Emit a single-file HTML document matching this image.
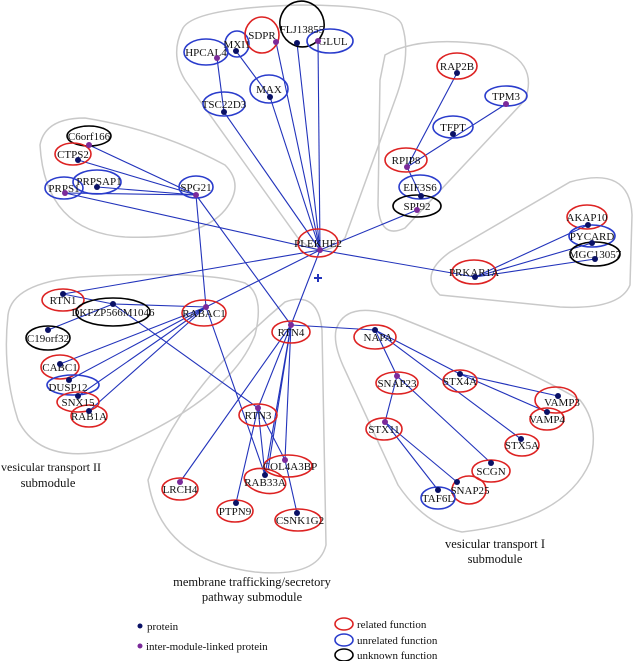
<!DOCTYPE html>
<html><head><meta charset="utf-8"><style>
html,body{margin:0;padding:0;background:#fff;}
svg{display:block;}
text{font-family:"Liberation Serif",serif;fill:#111;}
.n{font-size:11px;text-anchor:middle;}
.h{fill:none;stroke:#c9c9c9;stroke-width:1.5;}
.l line{stroke:#2233bb;stroke-width:1.1;}
.r{fill:none;stroke:#dd2222;stroke-width:1.6;}
.b{fill:none;stroke:#2a3ccc;stroke-width:1.6;}
.k{fill:none;stroke:#000;stroke-width:1.6;}
.d{fill:#0a1166;}
.p{fill:#7b2a9a;}
.cap{font-size:12.5px;text-anchor:middle;}
</style></head><body>
<svg width="635" height="661" viewBox="0 0 635 661" xmlns="http://www.w3.org/2000/svg">
<path class="h" d="M182,30 Q190,8 300,5 Q395,5 402,25 Q412,55 395,100 L345,238 Q322,262 298,238 L185,80 Q170,55 182,30 Z"/>
<path class="h" d="M385,55 Q420,35 490,45 Q540,60 525,100 L405,228 Q380,240 378,205 L380,80 Z"/>
<path class="h" d="M440,295 Q418,275 450,252 L570,182 Q630,165 632,215 L630,285 Q620,310 560,307 Z"/>
<path class="h" d="M40,145 Q45,118 85,118 Q160,130 225,165 Q245,185 225,210 Q200,240 125,237 Q45,232 40,145 Z"/>
<path class="h" d="M8,315 Q12,283 80,277 Q200,270 245,283 Q265,295 255,335 Q230,400 110,450 Q40,465 18,420 Q2,370 8,315 Z"/>
<path class="h" d="M148,480 Q180,390 285,302 Q318,290 322,330 L326,545 Q318,578 255,572 Q160,560 148,480 Z"/>
<path class="h" d="M336,330 Q345,300 395,316 Q520,365 580,400 Q600,425 590,462 Q565,520 462,532 Q425,525 398,485 L345,370 Q333,345 336,330 Z"/>
<g class="l">
<line x1="320" y1="250" x2="224" y2="112"/><line x1="320" y1="250" x2="270" y2="97"/><line x1="320" y1="250" x2="276" y2="42"/><line x1="320" y1="250" x2="297" y2="43"/><line x1="320" y1="250" x2="318" y2="41"/>
<line x1="236" y1="51" x2="270" y2="97"/><line x1="217" y1="58" x2="224" y2="112"/>
<line x1="320" y1="250" x2="417" y2="210"/><line x1="407" y1="167" x2="457" y2="73"/><line x1="407" y1="167" x2="506" y2="104"/><line x1="407" y1="167" x2="421" y2="196"/>
<line x1="320" y1="250" x2="475" y2="277"/><line x1="475" y1="277" x2="588" y2="225"/><line x1="475" y1="277" x2="592" y2="243"/><line x1="475" y1="277" x2="595" y2="259"/>
<line x1="89" y1="145" x2="196" y2="195"/><line x1="78" y1="160" x2="196" y2="195"/><line x1="65" y1="193" x2="196" y2="195"/><line x1="97" y1="187" x2="196" y2="195"/><line x1="65" y1="193" x2="320" y2="250"/>
<line x1="196" y1="195" x2="206" y2="307"/><line x1="196" y1="195" x2="291" y2="325"/>
<line x1="63" y1="294" x2="320" y2="250"/><line x1="63" y1="294" x2="113" y2="304"/><line x1="113" y1="304" x2="206" y2="307"/><line x1="48" y1="330" x2="113" y2="304"/><line x1="113" y1="304" x2="258" y2="408"/>
<line x1="206" y1="307" x2="320" y2="250"/><line x1="206" y1="307" x2="60" y2="364"/><line x1="206" y1="307" x2="69" y2="380"/><line x1="206" y1="307" x2="78" y2="396"/><line x1="206" y1="307" x2="89" y2="411"/><line x1="206" y1="307" x2="265" y2="475"/>
<line x1="291" y1="325" x2="320" y2="250"/><line x1="291" y1="325" x2="375" y2="330"/><line x1="291" y1="325" x2="180" y2="482"/><line x1="291" y1="325" x2="258" y2="408"/><line x1="291" y1="325" x2="265" y2="475"/><line x1="291" y1="325" x2="285" y2="460"/><line x1="291" y1="325" x2="268" y2="470"/>
<line x1="258" y1="408" x2="236" y2="503"/><line x1="258" y1="408" x2="265" y2="475"/><line x1="258" y1="408" x2="285" y2="460"/><line x1="285" y1="460" x2="297" y2="513"/>
<line x1="375" y1="330" x2="397" y2="376"/><line x1="375" y1="330" x2="460" y2="374"/><line x1="375" y1="330" x2="521" y2="439"/><line x1="460" y1="374" x2="558" y2="396"/><line x1="460" y1="374" x2="547" y2="412"/>
<line x1="397" y1="376" x2="385" y2="422"/><line x1="397" y1="376" x2="491" y2="463"/><line x1="385" y1="422" x2="457" y2="482"/><line x1="385" y1="422" x2="438" y2="490"/>
</g>
<path d="M314,278 h8 M318,274 v8" stroke="#2233bb" stroke-width="2"/>
<ellipse class="b" cx="206" cy="52" rx="22" ry="13"/><ellipse class="b" cx="237" cy="44" rx="12" ry="13"/><ellipse class="r" cx="262" cy="35" rx="17" ry="18"/><ellipse class="k" cx="302" cy="24" rx="22" ry="23" transform="rotate(-20 302 24)"/><ellipse class="b" cx="330" cy="41" rx="23" ry="12"/><ellipse class="b" cx="269" cy="89" rx="19" ry="14"/><ellipse class="b" cx="224" cy="104" rx="21" ry="12"/>
<ellipse class="r" cx="318" cy="243" rx="20" ry="14"/>
<ellipse class="r" cx="457" cy="66" rx="20" ry="13"/><ellipse class="b" cx="506" cy="96" rx="21" ry="10"/><ellipse class="b" cx="453" cy="127" rx="20" ry="11"/><ellipse class="r" cx="406" cy="160" rx="21" ry="12"/><ellipse class="b" cx="420" cy="187" rx="21" ry="12"/><ellipse class="k" cx="417" cy="206" rx="24" ry="11"/>
<ellipse class="r" cx="587" cy="217" rx="20" ry="12"/><ellipse class="b" cx="592" cy="236" rx="23" ry="11"/><ellipse class="k" cx="595" cy="254" rx="25" ry="12"/><ellipse class="r" cx="474" cy="272" rx="22" ry="12"/>
<ellipse class="k" cx="89" cy="136" rx="22" ry="10"/><ellipse class="r" cx="73" cy="154" rx="18" ry="11"/><ellipse class="b" cx="64" cy="188" rx="19" ry="11"/><ellipse class="b" cx="97" cy="182" rx="24" ry="12"/><ellipse class="b" cx="196" cy="187" rx="17" ry="11"/>
<ellipse class="r" cx="63" cy="300" rx="21" ry="11"/><ellipse class="k" cx="113" cy="312" rx="37" ry="14"/><ellipse class="k" cx="48" cy="338" rx="22" ry="12"/><ellipse class="r" cx="204" cy="313" rx="22" ry="13"/><ellipse class="r" cx="60" cy="367" rx="19" ry="12"/><ellipse class="b" cx="73" cy="385" rx="26" ry="10"/><ellipse class="r" cx="78" cy="402" rx="21" ry="10"/><ellipse class="r" cx="89" cy="416" rx="18" ry="11"/>
<ellipse class="r" cx="291" cy="332" rx="19" ry="11"/><ellipse class="r" cx="258" cy="415" rx="19" ry="11"/><ellipse class="r" cx="288" cy="466" rx="24" ry="11"/><ellipse class="r" cx="265" cy="481" rx="21" ry="12" transform="rotate(12 265 481)"/><ellipse class="r" cx="180" cy="489" rx="18" ry="11"/><ellipse class="r" cx="235" cy="511" rx="18" ry="11"/><ellipse class="r" cx="298" cy="520" rx="23" ry="11"/>
<ellipse class="r" cx="375" cy="337" rx="21" ry="12"/><ellipse class="r" cx="397" cy="383" rx="21" ry="11"/><ellipse class="r" cx="460" cy="381" rx="17" ry="11"/><ellipse class="r" cx="556" cy="400" rx="21" ry="13"/><ellipse class="r" cx="547" cy="419" rx="17" ry="11"/><ellipse class="r" cx="522" cy="445" rx="17" ry="11"/><ellipse class="r" cx="384" cy="429" rx="18" ry="11"/><ellipse class="r" cx="491" cy="471" rx="19" ry="11"/><ellipse class="r" cx="469" cy="490" rx="17" ry="14"/><ellipse class="b" cx="438" cy="498" rx="17" ry="11"/>
<g class="n">
<text x="206" y="56">HPCAL4</text><text x="237" y="48">MXI1</text><text x="262" y="39">SDPR</text><text x="302" y="33">FLJ13855</text><text x="333" y="45">GLUL</text><text x="269" y="93">MAX</text><text x="224" y="108">TSC22D3</text>
<text x="318" y="247">PLEKHE2</text>
<text x="457" y="70">RAP2B</text><text x="506" y="100">TPM3</text><text x="453" y="131">TFPT</text><text x="406" y="164">RPIP8</text><text x="420" y="191">EIF3S6</text><text x="417" y="210">SPI92</text>
<text x="587" y="221">AKAP10</text><text x="592" y="240">PYCARD</text><text x="595" y="258">MGC13057</text><text x="474" y="276">PRKAR1A</text>
<text x="89" y="140">C6orf166</text><text x="73" y="158">CTPS2</text><text x="64" y="192">PRPS1</text><text x="99" y="185">PRPSAP1</text><text x="196" y="191">SPG21</text>
<text x="63" y="304">RTN1</text><text x="113" y="316">DKFZP566M1046</text><text x="48" y="342">C19orf32</text><text x="204" y="317">RABAC1</text><text x="60" y="371">CABC1</text><text x="68" y="391">DUSP12</text><text x="78" y="406">SNX15</text><text x="89" y="420">RAB1A</text>
<text x="291" y="336">RTN4</text><text x="258" y="419">RTN3</text><text x="290" y="470">COL4A3BP</text><text x="265" y="486">RAB33A</text><text x="180" y="493">LRCH4</text><text x="235" y="515">PTPN9</text><text x="300" y="524">CSNK1G2</text>
<text x="378" y="341">NAPA</text><text x="397" y="387">SNAP23</text><text x="460" y="385">STX4A</text><text x="562" y="406">VAMP3</text><text x="547" y="423">VAMP4</text><text x="522" y="449">STX5A</text><text x="384" y="433">STX11</text><text x="491" y="475">SCGN</text><text x="470" y="494">SNAP25</text><text x="438" y="502">TAF6L</text>
</g>
<g>
<circle class="p" cx="217" cy="58" r="3"/><circle class="d" cx="236" cy="51" r="3"/><circle class="p" cx="276" cy="42" r="3"/><circle class="d" cx="297" cy="43" r="3"/><circle class="p" cx="318" cy="41" r="3"/><circle class="d" cx="270" cy="97" r="3"/><circle class="d" cx="224" cy="112" r="3"/>
<circle class="p" cx="320" cy="250" r="3"/>
<circle class="d" cx="457" cy="73" r="3"/><circle class="p" cx="506" cy="104" r="3"/><circle class="d" cx="453" cy="134" r="3"/><circle class="p" cx="407" cy="167" r="3"/><circle class="d" cx="421" cy="196" r="3"/><circle class="p" cx="417" cy="210" r="3"/>
<circle class="d" cx="588" cy="225" r="3"/><circle class="d" cx="592" cy="243" r="3"/><circle class="d" cx="595" cy="259" r="3"/><circle class="d" cx="475" cy="277" r="3"/>
<circle class="p" cx="89" cy="145" r="3"/><circle class="d" cx="78" cy="160" r="3"/><circle class="p" cx="65" cy="193" r="3"/><circle class="d" cx="97" cy="187" r="3"/><circle class="p" cx="196" cy="195" r="3"/>
<circle class="d" cx="63" cy="294" r="3"/><circle class="d" cx="113" cy="304" r="3"/><circle class="d" cx="48" cy="330" r="3"/><circle class="p" cx="206" cy="307" r="3"/><circle class="d" cx="60" cy="364" r="3"/><circle class="d" cx="69" cy="380" r="3"/><circle class="d" cx="78" cy="396" r="3"/><circle class="d" cx="89" cy="411" r="3"/>
<circle class="p" cx="291" cy="325" r="3"/><circle class="p" cx="258" cy="408" r="3"/><circle class="p" cx="285" cy="460" r="3"/><circle class="d" cx="265" cy="475" r="3"/><circle class="p" cx="180" cy="482" r="3"/><circle class="d" cx="236" cy="503" r="3"/><circle class="d" cx="297" cy="513" r="3"/>
<circle class="d" cx="375" cy="330" r="3"/><circle class="p" cx="397" cy="376" r="3"/><circle class="d" cx="460" cy="374" r="3"/><circle class="d" cx="558" cy="396" r="3"/><circle class="d" cx="547" cy="412" r="3"/><circle class="d" cx="521" cy="439" r="3"/><circle class="p" cx="385" cy="422" r="3"/><circle class="d" cx="491" cy="463" r="3"/><circle class="d" cx="457" cy="482" r="3"/><circle class="d" cx="438" cy="490" r="3"/>
</g>
<text x="1" y="471" font-size="12">vesicular transport II</text><text class="cap" x="48" y="487">submodule</text>
<text class="cap" x="252" y="586">membrane trafficking/secretory</text><text class="cap" x="252" y="601">pathway submodule</text>
<text class="cap" x="495" y="548">vesicular transport I</text><text class="cap" x="495" y="563">submodule</text>
<circle class="d" cx="140" cy="626" r="2.5"/><text x="147" y="630" font-size="11">protein</text>
<circle class="p" cx="140" cy="646" r="2.5"/><text x="146" y="650" font-size="11">inter-module-linked protein</text>
<ellipse class="r" cx="344" cy="624" rx="9" ry="6"/><text x="357" y="628" font-size="11">related function</text>
<ellipse class="b" cx="344" cy="640" rx="9" ry="6"/><text x="357" y="644" font-size="11">unrelated function</text>
<ellipse class="k" cx="344" cy="655" rx="9" ry="6"/><text x="357" y="659" font-size="11">unknown function</text>
</svg>
</body></html>
